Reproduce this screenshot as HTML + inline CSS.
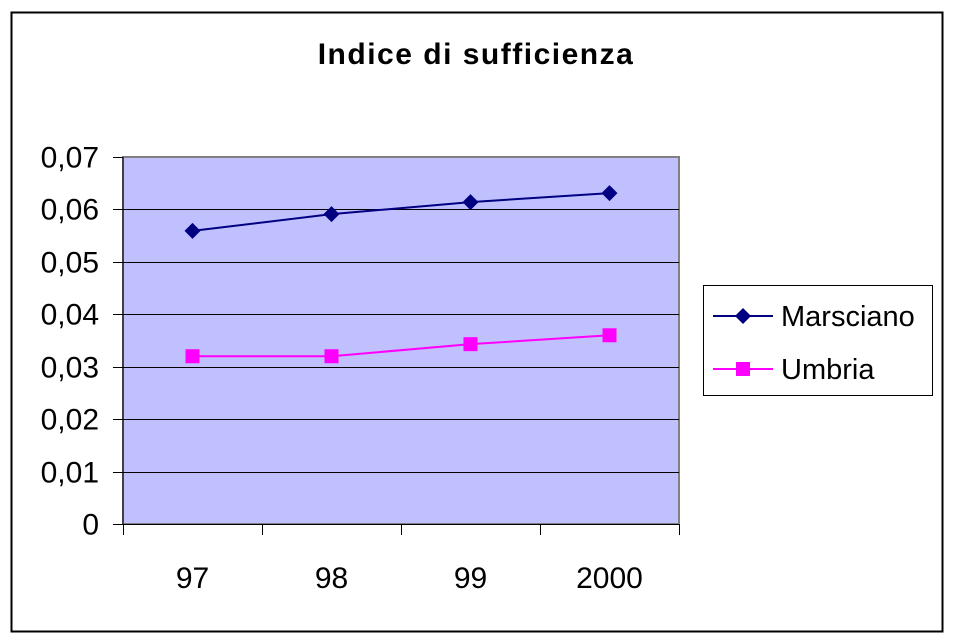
<!DOCTYPE html>
<html><head><meta charset="utf-8"><style>
html,body{margin:0;padding:0;background:#fff;}
svg{display:block;font-family:"Liberation Sans",Arial,sans-serif;}
</style></head><body>
<svg id="chart" width="956" height="644" viewBox="0 0 956 644">
  <rect x="11.5" y="12.5" width="931" height="619" fill="#fff" stroke="#000" stroke-width="2"/>
  <text x="476" y="64" text-anchor="middle" font-size="30" font-weight="bold" letter-spacing="1.5">Indice di sufficienza</text>
  <rect x="123" y="157" width="556" height="367" fill="#C0C0FF" stroke="#808080" stroke-width="2"/>
  <g id="grid"></g>
  <g id="axes"></g>
  <g id="series"></g>
  <g>
    <rect x="703.5" y="285.5" width="229" height="110" fill="#fff" stroke="#000" stroke-width="1"/>
    <line x1="713" y1="316" x2="773" y2="316" stroke="#000080" stroke-width="2"/>
    <path d="M743 308 L751 316 L743 324 L735 316 Z" fill="#000080"/>
    <text x="781" y="326" font-size="29">Marsciano</text>
    <line x1="713" y1="369" x2="773" y2="369" stroke="#FF00FF" stroke-width="2"/>
    <rect x="736" y="362" width="14" height="14" fill="#FF00FF"/>
    <text x="781" y="379" font-size="29">Umbria</text>
  </g>
</svg>
<script>
const categories = ["97","98","99","2000"];
const marsciano = [0.0559, 0.0591, 0.0614, 0.0631];
const umbria = [0.0320, 0.0320, 0.0343, 0.0360];
const yTicks = [0,0.01,0.02,0.03,0.04,0.05,0.06,0.07];
const yTickLabels = ["0","0,01","0,02","0,03","0,04","0,05","0,06","0,07"];

const NS="http://www.w3.org/2000/svg";
const X0=123,X1=679,Y0=524,Y1=157,YMAX=0.07;
const bw=(X1-X0)/categories.length;
function xs(i){return X0+bw*(i+0.5);}
function ys(v){return Y0-(v/YMAX)*(Y0-Y1);}
function mk(tag,attrs,parent){const e=document.createElementNS(NS,tag);for(const k in attrs)e.setAttribute(k,attrs[k]);parent.appendChild(e);return e;}
const grid=document.getElementById('grid'),axes=document.getElementById('axes'),ser=document.getElementById('series');
yTicks.forEach((t,i)=>{
  const y=Math.round(ys(t))+0.5;
  if(t>0&&t<YMAX){const g=mk('line',{x1:X0,x2:X1,y1:y,y2:y,stroke:'#000','stroke-width':1},grid);
  
  }
  const tk=mk('line',{x1:113,x2:X0,y1:y,y2:y,stroke:'#000','stroke-width':1},axes);
  
  
  const tx=mk('text',{x:99,y:y+10,'text-anchor':'end','font-size':30},axes);
  tx.textContent=yTickLabels[i];
  
  
});
const ax=mk('line',{x1:X0,x2:X0,y1:Y1,y2:Y0,stroke:'#000','stroke-width':1},axes);


const bx=mk('line',{x1:X0,x2:X1,y1:Y0+0.5,y2:Y0+0.5,stroke:'#000','stroke-width':1},axes);


for(let i=0;i<=categories.length;i++){
  const x=Math.round(X0+bw*i)+0.5;
  const t=mk('line',{x1:x,x2:x,y1:Y0,y2:Y0+11,stroke:'#000','stroke-width':1},axes);
  
  
}
categories.forEach((c,i)=>{
  const t=mk('text',{x:xs(i),y:588,'text-anchor':'middle','font-size':30},axes);
  t.textContent=c;
  
  
});
function line(vals,color,name){
  const p=mk('polyline',{points:vals.map((v,i)=>xs(i)+','+ys(v)).join(' '),fill:'none',stroke:color,'stroke-width':2},ser);
  
  
}
line(marsciano,'#000080','marsciano');
line(umbria,'#FF00FF','umbria');
marsciano.forEach((v,i)=>{
  const x=xs(i),y=ys(v);
  const m=mk('path',{d:`M${x} ${y-8} L${x+8} ${y} L${x} ${y+8} L${x-8} ${y} Z`,fill:'#000080'},ser);
  
  
});
umbria.forEach((v,i)=>{
  const x=xs(i),y=ys(v);
  const m=mk('rect',{x:x-7,y:y-7,width:14,height:14,fill:'#FF00FF'},ser);
  
  
});
</script>
</body></html>
